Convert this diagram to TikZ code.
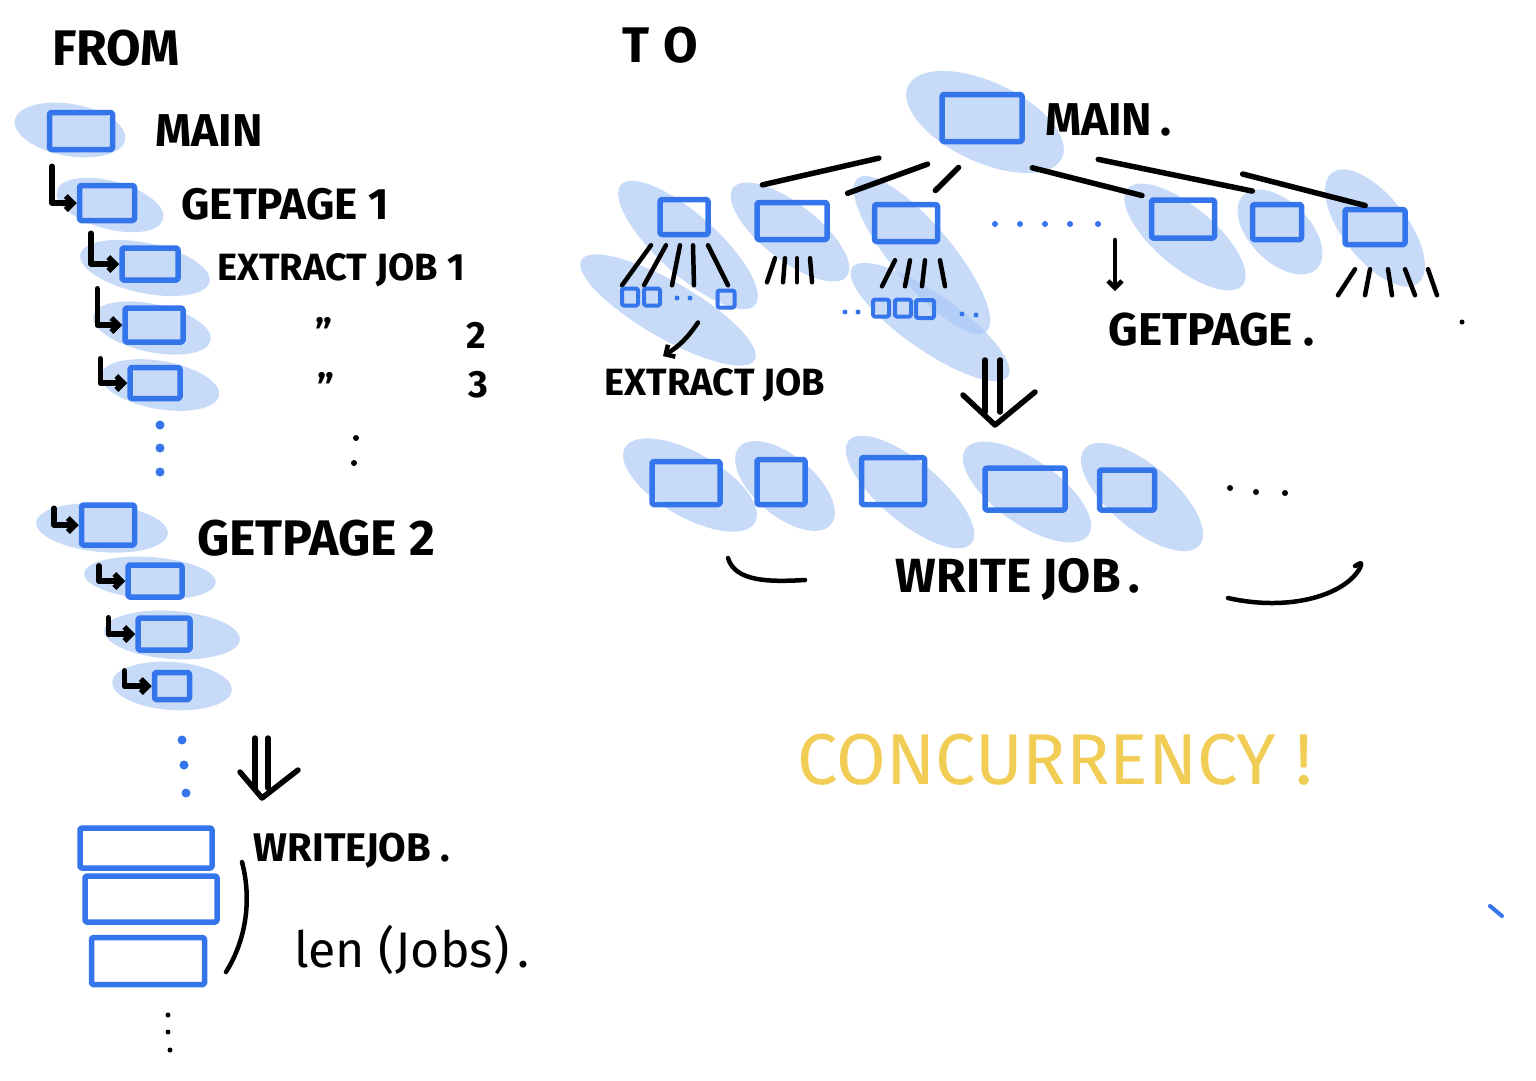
\documentclass[tikz,border=0pt]{standalone}
\usepackage{fontspec}
\setmainfont{Fira Sans}
\usetikzlibrary{arrows.meta}
\definecolor{c1}{HTML}{3575EC}
\definecolor{c2}{HTML}{A9C8F5}
\definecolor{c3}{HTML}{F2CD55}

\begin{document}
\begin{tikzpicture}[x=1pt, y=-1pt, line cap=round, line join=round,
    box/.style 2 args={draw=c1, line width=5.5pt, rounded corners=1.5pt, minimum width=#1pt, minimum height=#2pt, inner sep=0pt},
    glow/.style={fill=c2, opacity=.65},
    pen/.style={draw=black, line width=5.5pt},
    arr/.style={pen, -{Straight Barb[length=7pt,width=14pt]}},
    lbl/.style={font=\bfseries\fontsize{#1}{#1}\selectfont, inner sep=0pt}]
\useasboundingbox[fill=white] (0,0) rectangle (1536,1080);

\foreach \p/\a/\b/\r in {{70,130}/56/26/-10, {110,205}/55/24/-15, {145,268}/66/25/-12, {152,328}/60/24/-12,
    {160,385}/60/24/-10, {102,528}/66/24/-5, {150,578}/66/21/-4, {172,635}/68/24/-4, {172,686}/60/24/-4,
    {985,122}/85/40/-25, {688,245}/90/30/-42, {668,310}/100/28/-30, {790,232}/72/28/-38,
    {922,255}/100/30/-50, {930,322}/95/28/-35, {1185,237}/75/30/-40, {1280,232}/52/30/-45,
    {1375,228}/70/32/-52, {690,485}/75/32/-30, {785,486}/60/30/-40, {910,492}/80/30/-40,
    {1027,492}/75/32/-35, {1142,497}/75/32/-40}{
  \fill[glow, shift={(\p)}, rotate=\r] (0,0) ellipse ({\a} and {\b});
}

% from
\node[lbl=50] (lbfrom) at (116,48) {FROM};
\node[box={63}{37}] (fmain) at (81,131) {};
\node[box={55}{35}] (fget1) at (107,203) {};
\node[box={56}{32}] (fext1) at (150,264) {};
\node[box={58}{34}] (fext2) at (154,325) {};
\node[box={50}{31}] (fext3) at (155,383) {};
\node[box={53}{40}] (fget2) at (108,525) {};
\node[box={54}{32}] (fsub1) at (155,581) {};
\node[box={52}{32}] (fsub2) at (164,634) {};
\node[box={35}{27}] (fsub3) at (172,686) {};
\node[box={132}{40}] (fwr1) at (146,848) {};
\node[box={132}{46}] (fwr2) at (151,899) {};
\node[box={113}{47}] (fwr3) at (148,961) {};

\draw[arr] ([xshift=5pt,yshift=-14pt]fmain.south west) |- (fget1.west);
\draw[arr] ([xshift=14pt,yshift=-10pt]fget1.south west) |- (fext1.west);
\draw[arr] ([xshift=-22pt,yshift=-6pt]fext1.south west) |- (fext2.west);
\draw[arr] ([xshift=-22pt,yshift=-14pt]fext2.south west) |- (fext3.west);
\draw[arr] ([xshift=-25pt,yshift=-6pt]fget2.north west) |- (fget2.west);
\draw[arr] ([xshift=20pt,yshift=-18pt]fget2.south west) |- (fsub1.west);
\draw[arr] ([xshift=-17pt,yshift=-18pt]fsub1.south west) |- (fsub2.west);
\draw[arr] ([xshift=-11pt,yshift=-18pt]fsub2.south west) |- (fsub3.west);

\node[lbl=46] (lbfmain) at (209,131) {MAIN};
\node[lbl=44] (lbfget1) at (285,204) {GETPAGE 1};
\node[lbl=38] (lbfext1) at (341,270) {EXTRACT JOB 1};
\node[lbl=38] (lbq2) at (324,332) {"};
\node[lbl=38] (lbn2) at (476,335) {2};
\node[lbl=38] (lbq3) at (326,387) {"};
\node[lbl=38] (lbn3) at (478,385) {3};
\node[lbl=50] (lbfget2) at (316,538) {GETPAGE 2};
\node[lbl=40] (lbfwr) at (352,851) {WRITEJOB\ .};
\node[font=\fontsize{50}{50}\selectfont, inner sep=0pt] (lblen) at (412,950) {len (Jobs)\,.};

\foreach \y in {425,448,472} \fill[c1] (160,\y) circle (4.5);
\foreach \x/\y in {182/740, 184/765, 186/793} \fill[c1] (\x,\y) circle (4.5);
\foreach \x/\y in {356/438, 354/463} \fill (\x,\y) circle (3);
\foreach \x/\y in {168/1015, 168/1032, 170/1050} \fill (\x,\y) circle (2.5);

\draw[pen] (255,738) -- (255,788);
\draw[pen] (268,738) -- (268,788);
\draw[pen] (240,772) -- (262,798) -- (298,770);
\draw[pen, line width=4.5pt] (242,862) .. controls (252,900) and (246,940) .. (226,972);

% to
\node[lbl=50] (lbto) at (660,45) {T\hspace{14pt}O};
\node[box={80}{47}] (tmain) at (982,118) {};
\node[lbl=46, anchor=west] (lbtmain) at (1045,120) {MAIN\,.};
\node[box={48}{35}] (tget1) at (684,217) {};
\node[box={70}{37}] (tget2) at (792,221) {};
\node[box={63}{37}] (tget3) at (906,223) {};
\node[box={63}{38}] (tget4) at (1183,219) {};
\node[box={49}{35}] (tget5) at (1277,222) {};
\node[box={60}{35}] (tget6) at (1375,227) {};

\draw[pen, shorten <=62pt, shorten >=53pt] (tmain.south west) -- (tget1.north east);
\draw[pen, shorten <=58pt, shorten >=19pt] (tmain.south) -- (tget2.north east);
\draw[pen, shorten <=33pt, shorten >=16pt] (tmain.south) -- ([xshift=18pt]tget3.north);
\draw[pen, shorten <=96pt, shorten >=7pt] (tmain.south west) -- (tget4.north west);
\draw[pen, shorten <=75pt, shorten >=53pt] (tmain.south east) -- (tget5.north east);
\draw[pen, shorten <=225pt, shorten >=5pt] (tmain.east) -- ([xshift=-5pt]tget6.north);

\foreach \a/\b in {-33/-62, -18/-40, -4/-12, 9/10, 24/44}
  \draw[pen, line width=4.5pt] ([xshift=\a pt, yshift=-8pt]tget1.south) -- ([xshift=\b pt, yshift=-48pt]tget1.south);
\foreach \a/\b in {-17/-25, -7/-9, 5/5, 18/20}
  \draw[pen, line width=4.5pt] ([xshift=\a pt, yshift=-16pt]tget2.south) -- ([xshift=\b pt, yshift=-40pt]tget2.south);
\foreach \a/\b in {-11/-24, 4/-1, 19/16, 34/39}
  \draw[pen, line width=4.5pt] ([xshift=\a pt, yshift=-16pt]tget3.south) -- ([xshift=\b pt, yshift=-42pt]tget3.south);
\foreach \a/\b in {-20/-37, -5/-10, 13/17, 30/40, 53/62}
  \draw[pen, line width=4.5pt] ([xshift=\a pt, yshift=-22pt]tget6.south) -- ([xshift=\b pt, yshift=-48pt]tget6.south);
\fill (1462,322) circle (2.5);

\node[box={16}{17}, line width=4pt] (gc11) at (630,297) {};
\node[box={16}{17}, line width=4pt] (gc12) at (652,297) {};
\node[box={17}{17}, line width=4pt] (gc13) at (726,299) {};
\node[box={16}{17}, line width=4pt] (gc31) at (881,308) {};
\node[box={16}{17}, line width=4pt] (gc32) at (903,308) {};
\node[box={18}{18}, line width=4pt] (gc33) at (925,309) {};
\foreach \x/\y in {677/298, 690/298, 845/312, 858/312, 962/314, 976/315} \fill[c1] (\x,\y) circle (2.5);
\foreach \x in {995,1020,1045,1070,1098} \fill[c1] (\x,224) circle (3);

\node[lbl=38] (lbext) at (715,385) {EXTRACT JOB};
\node[lbl=46] (lbget) at (1212,330) {GETPAGE\ .};
\coordinate (tdots) at (1115,240);
\draw[arr, line width=4.5pt] ([xshift=-28pt,yshift=-13pt]gc13.south) to[bend left=12] ([xshift=-52pt,yshift=12pt]lbext.north);
\draw[arr, line width=4.5pt, shorten >=22pt] (tdots) -- (tdots |- lbget.north);

\draw[pen] (985,360) -- (985,412);
\draw[pen] (1000,360) -- (1000,412);
\draw[pen] (963,395) -- (995,425) -- (1035,392);

\node[box={68}{43}] (twr1) at (686,483) {};
\node[box={48}{45}] (twr2) at (781,482) {};
\node[box={63}{47}] (twr3) at (893,481) {};
\node[box={80}{42}] (twr4) at (1025,489) {};
\node[box={55}{40}] (twr5) at (1127,490) {};
\foreach \x/\y in {1230/488, 1256/492, 1285/493} \fill (\x,\y) circle (3);

\node[lbl=48] (lbtwr) at (1018,580) {WRITE JOB\,.};
\draw[pen, line width=4.5pt] (728,558) .. controls (735,582) and (770,582) .. (805,580);
\draw[pen, line width=4.5pt] (1228,598) .. controls (1290,612) and (1345,595) .. (1360,568) .. controls (1362,562) .. (1355,566);

\node[font=\fontsize{72}{72}\selectfont, text=c3, inner sep=0pt] (lbconc) at (1055,760) {CONCURRENCY !};
\draw[c1, line width=4pt] (1490,906) -- (1502,916);
\end{tikzpicture}
\end{document}
